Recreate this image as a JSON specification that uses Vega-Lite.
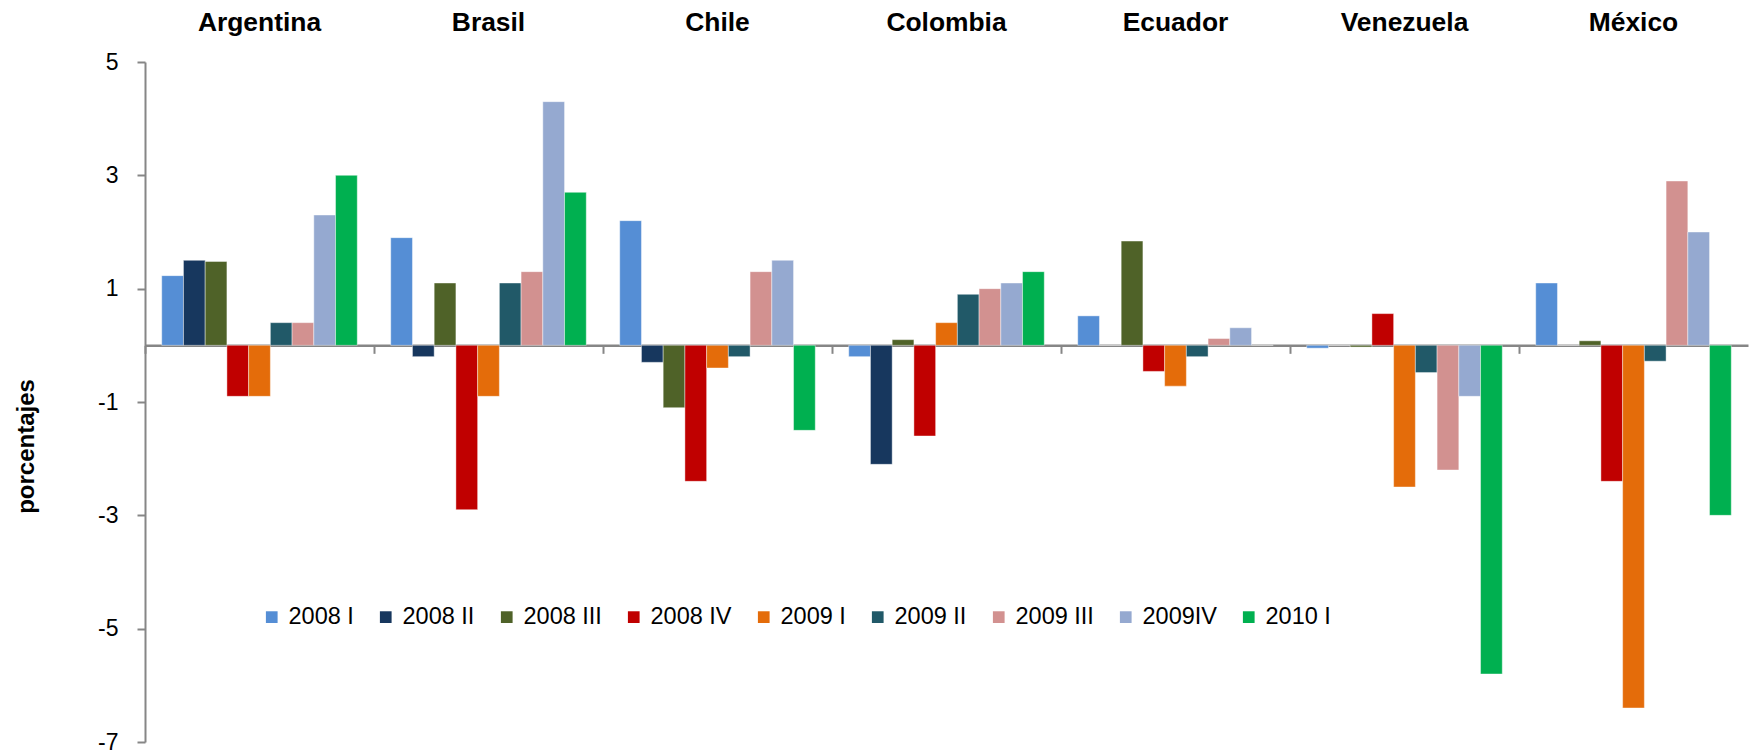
{
  "$schema": "https://vega.github.io/schema/vega-lite/v6.json",
  "width": 1603,
  "height": 680,
  "autosize": {"type": "none"},
  "padding": {"left": 145, "top": 62, "right": 2, "bottom": 12},
  "background": "white",
  "config": {
    "font": "Liberation Sans",
    "view": {"stroke": null}
  },
  "data": {
    "values": [
      {"pais": "Argentina", "trimestre": "2008 I", "valor": 1.23},
      {"pais": "Argentina", "trimestre": "2008 II", "valor": 1.5},
      {"pais": "Argentina", "trimestre": "2008 III", "valor": 1.48},
      {"pais": "Argentina", "trimestre": "2008 IV", "valor": -0.9},
      {"pais": "Argentina", "trimestre": "2009 I", "valor": -0.9},
      {"pais": "Argentina", "trimestre": "2009 II", "valor": 0.4},
      {"pais": "Argentina", "trimestre": "2009 III", "valor": 0.4},
      {"pais": "Argentina", "trimestre": "2009IV", "valor": 2.3},
      {"pais": "Argentina", "trimestre": "2010 I", "valor": 3.0},
      {"pais": "Brasil", "trimestre": "2008 I", "valor": 1.9},
      {"pais": "Brasil", "trimestre": "2008 II", "valor": -0.2},
      {"pais": "Brasil", "trimestre": "2008 III", "valor": 1.1},
      {"pais": "Brasil", "trimestre": "2008 IV", "valor": -2.9},
      {"pais": "Brasil", "trimestre": "2009 I", "valor": -0.9},
      {"pais": "Brasil", "trimestre": "2009 II", "valor": 1.1},
      {"pais": "Brasil", "trimestre": "2009 III", "valor": 1.3},
      {"pais": "Brasil", "trimestre": "2009IV", "valor": 4.3},
      {"pais": "Brasil", "trimestre": "2010 I", "valor": 2.7},
      {"pais": "Chile", "trimestre": "2008 I", "valor": 2.2},
      {"pais": "Chile", "trimestre": "2008 II", "valor": -0.3},
      {"pais": "Chile", "trimestre": "2008 III", "valor": -1.1},
      {"pais": "Chile", "trimestre": "2008 IV", "valor": -2.4},
      {"pais": "Chile", "trimestre": "2009 I", "valor": -0.4},
      {"pais": "Chile", "trimestre": "2009 II", "valor": -0.2},
      {"pais": "Chile", "trimestre": "2009 III", "valor": 1.3},
      {"pais": "Chile", "trimestre": "2009IV", "valor": 1.5},
      {"pais": "Chile", "trimestre": "2010 I", "valor": -1.5},
      {"pais": "Colombia", "trimestre": "2008 I", "valor": -0.2},
      {"pais": "Colombia", "trimestre": "2008 II", "valor": -2.1},
      {"pais": "Colombia", "trimestre": "2008 III", "valor": 0.1},
      {"pais": "Colombia", "trimestre": "2008 IV", "valor": -1.6},
      {"pais": "Colombia", "trimestre": "2009 I", "valor": 0.4},
      {"pais": "Colombia", "trimestre": "2009 II", "valor": 0.9},
      {"pais": "Colombia", "trimestre": "2009 III", "valor": 1.0},
      {"pais": "Colombia", "trimestre": "2009IV", "valor": 1.1},
      {"pais": "Colombia", "trimestre": "2010 I", "valor": 1.3},
      {"pais": "Ecuador", "trimestre": "2008 I", "valor": 0.52},
      {"pais": "Ecuador", "trimestre": "2008 II", "valor": 0},
      {"pais": "Ecuador", "trimestre": "2008 III", "valor": 1.84},
      {"pais": "Ecuador", "trimestre": "2008 IV", "valor": -0.46},
      {"pais": "Ecuador", "trimestre": "2009 I", "valor": -0.72},
      {"pais": "Ecuador", "trimestre": "2009 II", "valor": -0.2},
      {"pais": "Ecuador", "trimestre": "2009 III", "valor": 0.12},
      {"pais": "Ecuador", "trimestre": "2009IV", "valor": 0.31},
      {"pais": "Ecuador", "trimestre": "2010 I", "valor": 0},
      {"pais": "Venezuela", "trimestre": "2008 I", "valor": -0.05},
      {"pais": "Venezuela", "trimestre": "2008 II", "valor": 0},
      {"pais": "Venezuela", "trimestre": "2008 III", "valor": -0.03},
      {"pais": "Venezuela", "trimestre": "2008 IV", "valor": 0.56},
      {"pais": "Venezuela", "trimestre": "2009 I", "valor": -2.5},
      {"pais": "Venezuela", "trimestre": "2009 II", "valor": -0.48},
      {"pais": "Venezuela", "trimestre": "2009 III", "valor": -2.2},
      {"pais": "Venezuela", "trimestre": "2009IV", "valor": -0.9},
      {"pais": "Venezuela", "trimestre": "2010 I", "valor": -5.8},
      {"pais": "México", "trimestre": "2008 I", "valor": 1.1},
      {"pais": "México", "trimestre": "2008 II", "valor": 0},
      {"pais": "México", "trimestre": "2008 III", "valor": 0.08},
      {"pais": "México", "trimestre": "2008 IV", "valor": -2.4},
      {"pais": "México", "trimestre": "2009 I", "valor": -6.4},
      {"pais": "México", "trimestre": "2009 II", "valor": -0.28},
      {"pais": "México", "trimestre": "2009 III", "valor": 2.9},
      {"pais": "México", "trimestre": "2009IV", "valor": 2.0},
      {"pais": "México", "trimestre": "2010 I", "valor": -3.0}
    ]
  },
  "layer": [
    {
      "mark": {"type": "bar", "stroke": "white", "strokeWidth": 0.6, "strokeOpacity": 0.7},
      "encoding": {
        "x": {
          "field": "pais",
          "type": "nominal",
          "sort": ["Argentina", "Brasil", "Chile", "Colombia", "Ecuador", "Venezuela", "México"],
          "scale": {"paddingInner": 0, "paddingOuter": 0},
          "axis": {
            "orient": "top",
            "title": null,
            "domain": false,
            "ticks": false,
            "labelAngle": 0,
            "labelFont": "Liberation Sans",
            "labelFontWeight": "bold",
            "labelFontSize": 26.4,
            "labelColor": "black",
            "labelPadding": 26
          }
        },
        "xOffset": {
          "field": "trimestre",
          "type": "nominal",
          "sort": ["2008 I", "2008 II", "2008 III", "2008 IV", "2009 I", "2009 II", "2009 III", "2009IV", "2010 I"],
          "scale": {"paddingInner": 0, "paddingOuter": 0.77}
        },
        "y": {
          "field": "valor",
          "type": "quantitative",
          "scale": {"domain": [-7, 5], "nice": false, "zero": false},
          "axis": {
            "title": "porcentajes",
            "titleFont": "Liberation Sans",
            "titleFontSize": 24,
            "titleFontWeight": "bold",
            "titleColor": "black",
            "titleAngle": -90,
            "titleAlign": "center",
            "titleBaseline": "middle",
            "titleX": -119,
            "titleY": 384,
            "values": [-7, -5, -3, -1, 1, 3, 5],
            "labelExpr": "'' + datum.value",
            "grid": false,
            "domainColor": "#868686",
            "domainWidth": 2,
            "tickColor": "#868686",
            "tickWidth": 2,
            "tickSize": 8,
            "labelFontSize": 23,
            "labelColor": "black",
            "labelPadding": 19
          }
        },
        "color": {
          "field": "trimestre",
          "type": "nominal",
          "sort": ["2008 I", "2008 II", "2008 III", "2008 IV", "2009 I", "2009 II", "2009 III", "2009IV", "2010 I"],
          "scale": {
            "domain": ["2008 I", "2008 II", "2008 III", "2008 IV", "2009 I", "2009 II", "2009 III", "2009IV", "2010 I"],
            "range": ["#558ED5", "#17375E", "#4F6228", "#C00000", "#E46C0A", "#215968", "#D29190", "#95A9D0", "#00B050"]
          },
          "legend": {
            "title": null,
            "orient": "none",
            "legendX": 115,
            "legendY": 543,
            "direction": "horizontal",
            "columns": 9,
            "symbolType": "square",
            "symbolSize": 137,
            "symbolStrokeWidth": 0,
            "labelFontSize": 23.5,
            "labelColor": "black",
            "labelOffset": 5,
            "columnPadding": 20
          }
        }
      }
    },
    {
      "mark": {"type": "point", "opacity": 0},
      "encoding": {
        "x": {
          "field": "pais",
          "type": "nominal",
          "sort": ["Argentina", "Brasil", "Chile", "Colombia", "Ecuador", "Venezuela", "México"],
          "axis": {
            "orient": "bottom",
            "offset": -396.67,
            "title": null,
            "labels": false,
            "bandPosition": 0,
            "domainColor": "#868686",
            "domainWidth": 2.5,
            "tickColor": "#868686",
            "tickWidth": 2,
            "tickSize": 8
          }
        },
        "y": {"datum": 0}
      }
    }
  ],
  "resolve": {"axis": {"x": "independent"}}
}
